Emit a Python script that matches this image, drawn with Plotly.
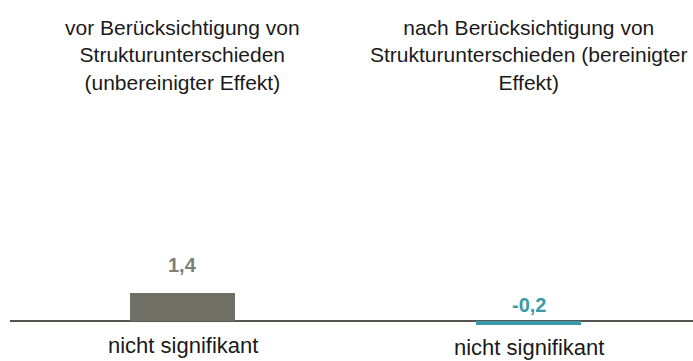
import plotly.graph_objects as go

# Effect estimates before / after accounting for structural differences
categories = [
    "vor Berücksichtigung von<br>Strukturunterschieden<br>(unbereinigter Effekt)",
    "nach Berücksichtigung von<br>Strukturunterschieden (bereinigter<br>Effekt)",
]
values = [1.4, -0.2]
significance = ["nicht signifikant", "nicht signifikant"]
bar_colors = ["#6f6f66", "#3a9aa8"]
label_colors = ["#7f7f78", "#3a9aa8"]

FONT = "Liberation Sans, Arial, sans-serif"
xpos = list(range(len(values)))

fig = go.Figure(
    go.Bar(
        x=xpos,
        y=values,
        width=0.3035,
        marker=dict(color=bar_colors, line=dict(width=0)),
        hoverinfo="skip",
    )
)

annotations = []
for i, (cat, v, sig) in enumerate(zip(categories, values, significance)):
    # category heading
    annotations.append(dict(
        x=i, y=1, xref="x", yref="paper", yanchor="top", yshift=-14,
        text=cat, showarrow=False, align="center",
        font=dict(family=FONT, size=21, color="#1a1a1a"),
    ))
    # value label above the bar (or above the baseline for negative values)
    label = f"{v:.1f}".replace(".", ",")
    annotations.append(dict(
        x=i, y=max(v, 0), xref="x", yref="y", yanchor="bottom",
        yshift=15 if v > 0 else 3,
        text=f"<b>{label}</b>", showarrow=False,
        font=dict(family=FONT, size=20, color=label_colors[i]),
    ))
    # significance note below the baseline
    annotations.append(dict(
        x=i, y=min(v, 0), xref="x", yref="y", yanchor="top",
        yshift=-10 if v >= 0 else -8,
        text=sig, showarrow=False,
        font=dict(family=FONT, size=22, color="#1a1a1a"),
    ))

fig.update_layout(
    width=693, height=361,
    margin=dict(l=10, r=0, t=0, b=0),
    paper_bgcolor="white", plot_bgcolor="white",
    showlegend=False,
    xaxis=dict(range=[-0.4986, 1.4754], visible=False, fixedrange=True),
    yaxis=dict(range=[-2.0, 16.05], showgrid=False, showticklabels=False,
               zeroline=True, zerolinecolor="#55554f", zerolinewidth=2,
               fixedrange=True),
    annotations=annotations,
    font=dict(family=FONT),
)

fig.write_html("out.html")
